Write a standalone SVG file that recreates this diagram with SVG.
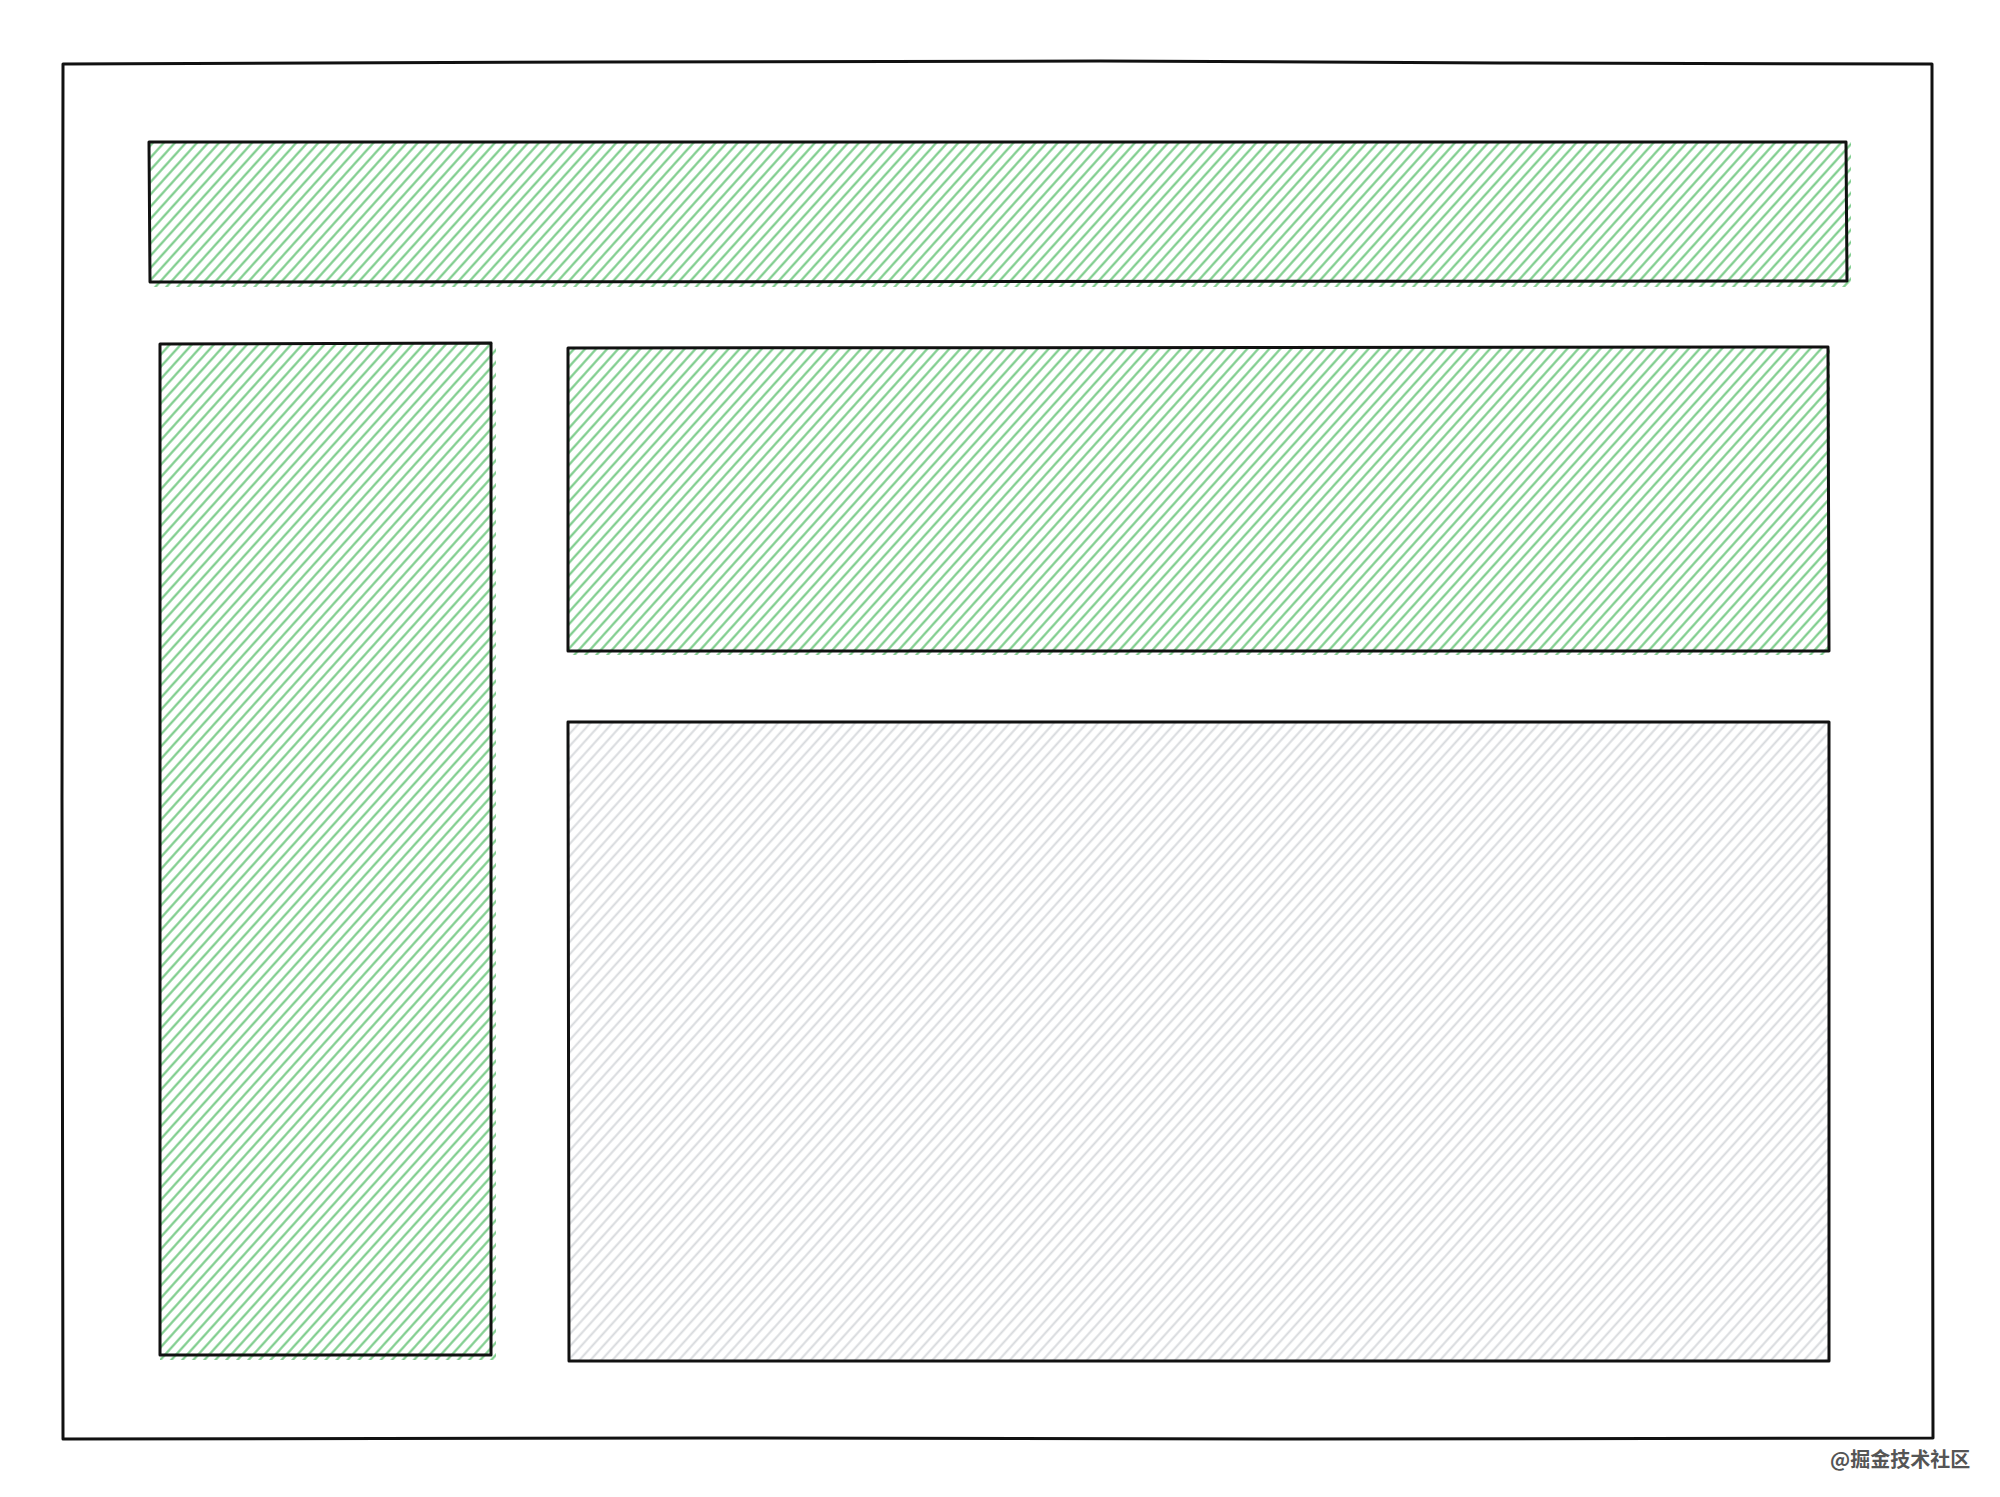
<svg xmlns="http://www.w3.org/2000/svg" width="2000" height="1497" viewBox="0 0 2000 1497">
  <defs>
    <pattern id="hatchGreen" patternUnits="userSpaceOnUse" width="8.2" height="8.2" patternTransform="rotate(-48)">
      <line x1="-2" y1="4.1" x2="11" y2="4.1" stroke="#76ca85" stroke-width="2.1"/>
    </pattern>
    <pattern id="hatchGray" patternUnits="userSpaceOnUse" width="8.2" height="8.2" patternTransform="rotate(-48)">
      <line x1="-2" y1="4.1" x2="11" y2="4.1" stroke="#d6d9dc" stroke-width="1.9"/>
    </pattern>
  </defs>
  <style>
    .frame { fill: none; stroke: #111; stroke-width: 3; stroke-linejoin: round; }
    .box { fill: none; stroke: #111; stroke-width: 3; stroke-linejoin: round; }
    .green { fill: url(#hatchGreen); stroke: none; }
    .gray { fill: url(#hatchGray); stroke: none; }
    .mark { font-family: "Noto Sans CJK SC", "Liberation Sans", sans-serif; font-size: 20px; font-weight: bold; fill: #555; }
  </style>
  <rect width="2000" height="1497" fill="#ffffff"/>

  <g id="outer-frame">
    <path class="frame" d="M63 64 L600 62 L1100 61 L1500 63 L1932 64 L1932 700 L1933 1438 L1300 1439 L700 1438 L63 1439 L62 800 Z"/>
  </g>

  <g id="header">
    <rect class="green" x="149" y="142" width="1702" height="145"/>
    <path class="box" d="M149 142 L1846 142 L1847 281 L150 282 Z"/>
  </g>

  <g id="sidebar">
    <rect class="green" x="160" y="343" width="336" height="1017"/>
    <path class="box" d="M160 344 L491 343 L491 1355 L160 1355 Z"/>
  </g>

  <g id="content-top">
    <rect class="green" x="568" y="347" width="1262" height="308"/>
    <path class="box" d="M568 348 L1828 347 L1829 651 L568 651 Z"/>
  </g>

  <g id="content-main">
    <rect class="gray" x="568" y="722" width="1262" height="640"/>
    <path class="box" d="M568 722 L1829 722 L1829 1361 L569 1361 Z"/>
  </g>

  <g id="connectors"></g>

  <g id="watermark">
    <text class="mark" x="1830" y="1467">@掘金技术社区</text>
  </g>
</svg>
